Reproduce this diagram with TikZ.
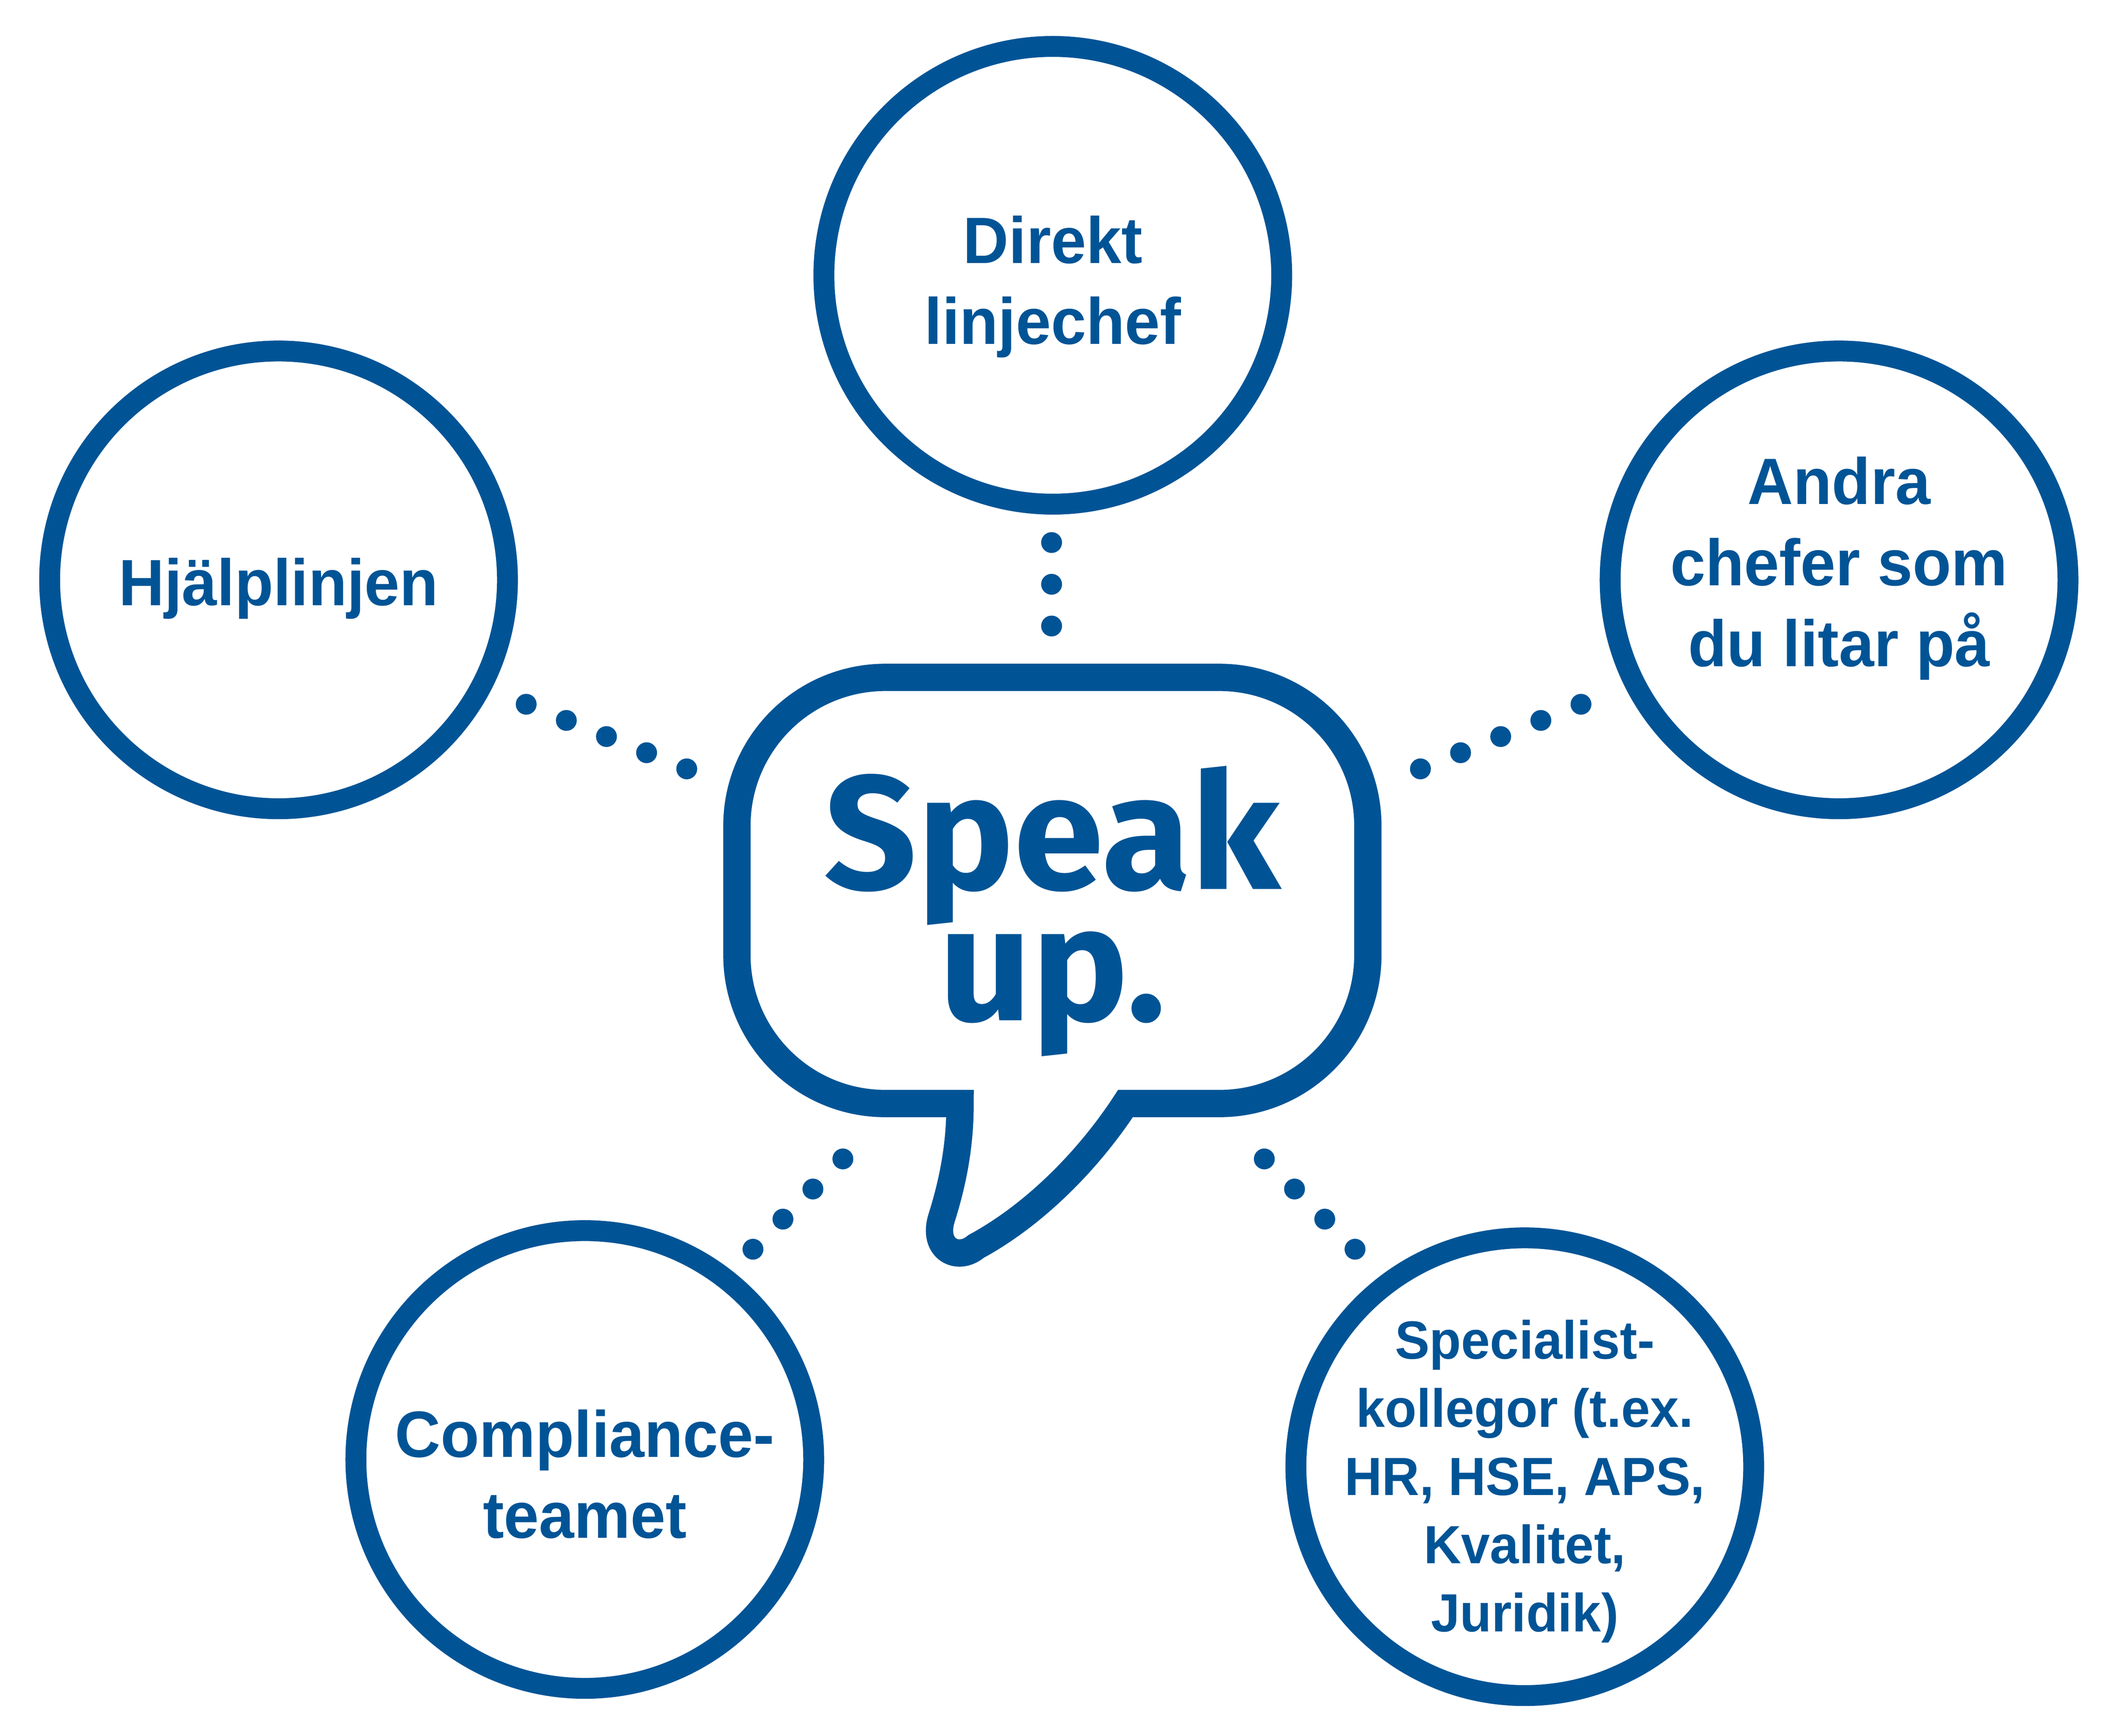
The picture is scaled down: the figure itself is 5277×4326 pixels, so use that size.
\documentclass[tikz,border=0pt]{standalone}
\usepackage{fontspec}
\setmainfont{Liberation Sans}[FakeStretch=0.965]
\newfontfamily\speakfont{Fira Sans}
\usetikzlibrary{calc}
\definecolor{speakblue}{RGB}{0,84,150}

\begin{document}
\begin{tikzpicture}[x=0.01cm, y=-0.01cm,
  ring/.style={circle, draw=speakblue, line width=0.52cm,
    minimum size=11.4cm, inner sep=0pt},
  ringtext/.style={text=speakblue, align=center, inner sep=0pt,
    font=\fontsize{46.4}{57.5}\selectfont\bfseries},
  smalltext/.style={ringtext, font=\fontsize{38.1}{48.3}\selectfont\bfseries},
  bubble/.style={draw=speakblue, line width=0.68cm},
  dot/.style={fill=speakblue}]
  \useasboundingbox (0,0) rectangle (5277,4326);

  % the five circles
  \node[ring] (direkt) at (2623,686) {};
  \node[ring] (hjalp) at (694,1445) {};
  \node[ring] (andra) at (4582,1445) {};
  \node[ring] (compl) at (1457,3637) {};
  \node[ring] (spec) at (3799,3655) {};

  % texts sit on the baseline of their last line
  \node[ringtext, anchor=base] (direkt-txt) at (2623,858) {Direkt\\linjechef};
  \node[ringtext, anchor=base] (hjalp-txt) at (694,1509) {Hjälplinjen};
  \node[ringtext, anchor=base] (andra-txt) at (4582,1661) {Andra\\chefer som\\du litar på};
  \node[ringtext, anchor=base] (compl-txt) at (1457,3833) {Compliance-\\teamet};
  \node[smalltext, anchor=base] (spec-txt) at (3799,4066)
    {Specialist-\\kollegor (t.ex.\\HR, HSE, APS,\\Kvalitet,\\Juridik)};

  % speech bubble
  \draw[bubble] (2804,2750) -- (3038,2750)
    arc[start angle=90, end angle=0, radius=370] -- (3408,2058)
    arc[start angle=0, end angle=-90, radius=370] -- (2206,1688)
    arc[start angle=-90, end angle=-180, radius=370] -- (1836,2380)
    arc[start angle=180, end angle=90, radius=370] -- (2392,2750)
    .. controls (2392,2850) and (2376,2940) .. (2346,3035)
    .. controls (2322,3112) and (2386,3145) .. (2432,3106)
    .. controls (2590,3020) and (2722,2876) .. (2804,2750) -- cycle;
  \node[text=speakblue, align=center, inner sep=0pt, anchor=base,
    font=\speakfont\fontsize{115}{93}\selectfont\bfseries] (speak) at (2622,2543) {Speak\\up.};

  % dotted links
  \coordinate (d1) at (2620,1352); \coordinate (d2) at (2620,1560);
  \coordinate (h1) at (1311,1755); \coordinate (h2) at (1711,1916);
  \coordinate (a1) at (3939,1755); \coordinate (a2) at (3539,1916);
  \coordinate (c1) at (2100,2888); \coordinate (c2) at (1876,3113);
  \coordinate (s1) at (3150,2888); \coordinate (s2) at (3376,3113);
  \foreach \i in {0,1,2}
    \fill[dot] ($(d1)!\i/2!(d2)$) circle (26);
  \foreach \i in {0,...,4} {
    \fill[dot] ($(h1)!\i/4!(h2)$) circle (26);
    \fill[dot] ($(a1)!\i/4!(a2)$) circle (26);
  }
  \foreach \i in {0,...,3} {
    \fill[dot] ($(c1)!\i/3!(c2)$) circle (26);
    \fill[dot] ($(s1)!\i/3!(s2)$) circle (26);
  }
\end{tikzpicture}
\end{document}
